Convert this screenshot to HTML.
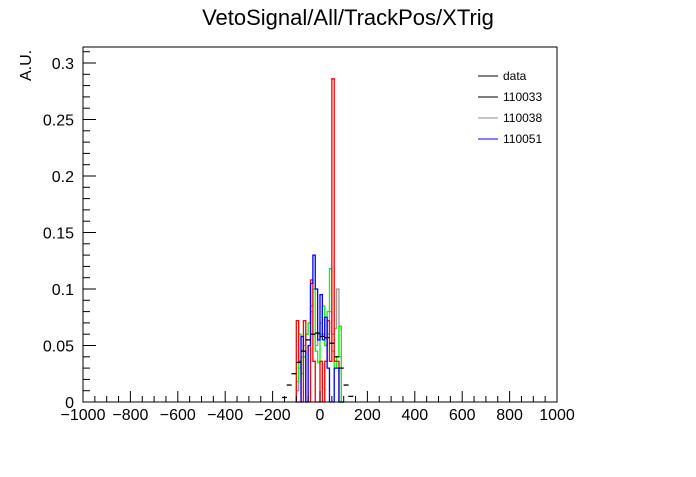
<!DOCTYPE html>
<html><head><meta charset="utf-8"><style>
body{margin:0;background:#fff;}
svg text{font-family:"Liberation Sans",sans-serif;}
</style></head><body>
<svg id="chart" width="696" height="472" xmlns="http://www.w3.org/2000/svg">
<rect x="0" y="0" width="696" height="472" fill="#fff"/>
<text x="348" y="25" font-size="22" text-anchor="middle">VetoSignal/All/TrackPos/XTrig</text>
<text transform="translate(31,81) rotate(-90)" font-size="16" text-anchor="start">A.U.</text>
<g id="plot"></g>
<g id="legend"></g>
</svg>
<script>
const binEdges = [-100,-90,-80,-70,-60,-50,-40,-30,-20,-10,0,10,20,30,40,50,60,70,80,90];
const red110051 = [0.072,0.036,0,0.072,0,0,0.108,0.036,0,0,0.036,0,0.036,0.072,0.036,0.286,0.036,0.036,0,0];
const green = [0.018,0.06,0.025,0.04,0.06,0.07,0.085,0.10,0.045,0.035,0.06,0.085,0.05,0.08,0.118,0.045,0.03,0.04,0.067,0];
const gray110038 = [0.01,0.03,0.04,0.05,0.06,0.07,0.08,0.06,0.05,0.06,0.07,0.06,0.05,0.06,0.08,0.06,0.065,0.1,0.04,0];
const blue110051 = [0,0,0.058,0.045,0,0.05,0.105,0.13,0.10,0.055,0.095,0.055,0.075,0.03,0,0,0.03,0.03,0,0];
const dataX = [-150,-130,-110,-90,-70,-50,-30,-10,10,30,50,70,90,110,130];
const dataY = [0.004,0.015,0.025,0.035,0.045,0.055,0.06,0.061,0.058,0.057,0.052,0.04,0.03,0.015,0.005];
const xTicks = [-1000,-800,-600,-400,-200,0,200,400,600,800,1000];
const yTicks = [0,0.05,0.1,0.15,0.2,0.25,0.3];
const yTickLabels = ["0","0.05","0.1","0.15","0.2","0.25","0.3"];
const legendLabels = ["data","110033","110038","110051"];
const legendColors = ["#000","#000","#888","#00f"];

const L=83,R=557,T=47,B=402;
const xs=v=>L+(v+1000)/2000*(R-L);
const ys=v=>B-v/0.3*(B-63);
const NS="http://www.w3.org/2000/svg";
const plot=document.getElementById('plot');
function mk(tag,attrs,parent){const e=document.createElementNS(NS,tag);for(const k in attrs)e.setAttribute(k,attrs[k]);(parent||plot).appendChild(e);return e;}

function hist(vals,color,name){
  let d="M"+xs(binEdges[0])+","+ys(0);
  for(let i=0;i<vals.length;i++){
    const x0=xs(binEdges[i]),x1=xs(binEdges[i]+10);
    d+=" L"+x0+","+ys(vals[i])+" L"+x1+","+ys(vals[i]);
  }
  d+=" L"+xs(binEdges[binEdges.length-1]+10)+","+ys(0);
  const p=mk('path',{d:d,fill:'none',stroke:color,'stroke-width':1.3});
  
  
}
hist(gray110038,'#999','series-110038');
hist(green,'#0f0','series-green');
hist(red110051,'#f00','series-red');
hist(blue110051,'#00f','series-110051');
for(let i=0;i<dataX.length;i++){
  const ln=mk('line',{x1:xs(dataX[i])-2.5,x2:xs(dataX[i])+2.5,y1:ys(dataY[i]),y2:ys(dataY[i]),stroke:'#000','stroke-width':1.3});
  
  
}
const fr=mk('rect',{x:L,y:T,width:R-L,height:B-T,fill:'none',stroke:'#000','stroke-width':1});


for(let v=-1000;v<=1000;v+=50){
  const major=v%200===0;
  const t=mk('line',{x1:xs(v),x2:xs(v),y1:B,y2:B-(major?11:6),stroke:'#000'});
  
  
}
xTicks.forEach(v=>{
  const t=mk('text',{x:xs(v),y:B+18,'font-size':16,'text-anchor':'middle'});
  t.textContent=(v<0?'\u2212'+(-v):v);
  
  
});
for(let k=0;k<=31;k++){
  const v=k*0.01;const major=k%5===0;
  const t=mk('line',{x1:L,x2:L+(major?13:7),y1:ys(v),y2:ys(v),stroke:'#000'});
  
  
}
yTicks.forEach((v,i)=>{
  const t=mk('text',{x:L-9,y:ys(v)+6,'font-size':16,'text-anchor':'end'});
  t.textContent=yTickLabels[i];
  
  
});
const lg=document.getElementById('legend');
legendLabels.forEach((s,i)=>{
  const y=76+i*21;
  const ln=mk('line',{x1:478,x2:498,y1:y,y2:y,stroke:legendColors[i],'stroke-width':1},lg);
  
  
  const t=mk('text',{x:503,y:y+4,'font-size':12},lg);
  t.textContent=s;
  
  
});
</script>
</body></html>
